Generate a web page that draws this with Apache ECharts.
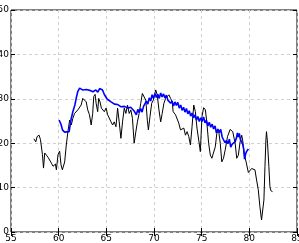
<!DOCTYPE html>
<html>
<head>
<meta charset="utf-8">
<script src="https://cdn.jsdelivr.net/npm/echarts@6/dist/echarts.min.js"></script>
<style>
html,body{margin:0;padding:0;background:#fff;}
#c{width:299px;height:243px;}
</style>
</head>
<body>
<div id="c"></div>
<script>
var xTicks = [55, 60, 65, 70, 75, 80, 85];
var yTicks = [0, 10, 20, 30, 40, 50];

var blackX = [57.40,57.60,57.74,57.95,58.09,58.30,58.41,58.54,58.72,58.89,59.06,59.24,59.41,59.51,59.66,59.76,59.93,60.10,60.25,60.39,60.63,60.80,60.97,61.15,61.32,61.49,61.67,61.84,62.01,62.19,62.36,62.53,62.71,62.89,63.05,63.23,63.41,63.57,63.68,63.82,63.93,64.09,64.20,64.34,64.48,64.61,64.79,64.97,65.14,65.31,65.49,65.66,65.83,66.01,66.18,66.35,66.53,66.70,66.88,67.05,67.22,67.40,67.57,67.74,67.92,68.09,68.26,68.44,68.61,68.78,68.96,69.14,69.30,69.41,69.58,69.76,69.93,70.18,70.34,70.52,70.70,70.86,71.04,71.22,71.39,71.56,71.74,71.91,72.01,72.26,72.43,72.60,72.78,72.95,73.13,73.30,73.47,73.65,73.82,73.99,74.17,74.34,74.51,74.69,74.86,75.03,75.21,75.39,75.55,75.73,75.91,76.07,76.25,76.43,76.59,76.77,76.95,77.11,77.29,77.47,77.71,77.99,78.26,78.51,78.68,78.85,79.03,79.20,79.30,79.45,79.66,79.79,79.90,80.07,80.24,80.42,80.59,80.76,80.94,81.11,81.28,81.39,81.53,81.64,81.74,81.80,81.91,82.05,82.16,82.26,82.43];
var blackY = [21.0,20.3,21.5,21.8,20.8,17.4,14.4,17.8,17.3,16.8,17.0,15.5,14.8,14.4,15.3,14.0,17.4,18.2,15.1,14.0,15.8,19.6,22.6,25.2,24.1,25.6,26.7,26.4,27.5,27.9,28.6,30.1,30.5,29.3,27.5,26.4,24.1,26.7,30.5,31.0,29.0,27.1,30.1,29.3,27.9,28.2,27.1,27.9,26.4,26.0,24.8,24.1,24.8,23.7,27.9,24.8,21.1,24.8,27.9,26.7,28.6,26.7,27.5,25.6,20.0,22.5,24.8,26.7,29.0,31.2,31.2,29.7,25.2,23.0,26.0,29.0,29.7,32.0,30.9,27.5,24.8,26.7,29.0,30.1,30.5,30.9,30.1,29.3,27.1,26.4,26.0,24.5,23.0,22.6,23.4,21.8,22.6,21.5,19.6,23.7,28.6,27.1,23.4,20.7,18.1,26.0,28.0,27.5,24.5,20.0,17.3,16.6,16.9,19.2,22.2,23.0,20.0,15.8,16.6,18.5,21.5,23.1,22.6,20.0,16.6,17.3,20.3,21.8,20.7,17.7,15.8,15.5,13.4,13.1,14.3,14.7,14.0,11.7,9.5,5.7,2.7,2.3,7.2,14.7,20.7,22.6,20.0,14.7,10.2,9.3,9.1];

var blueX = [60.05,60.25,60.4,60.6,60.8,61.1,61.3,61.5,61.7,61.85,62.0,62.2,62.35,62.5,62.7,62.9,63.1,63.25,63.4,63.6,63.75,63.9,64.1,64.3,64.45,64.6,64.8,65.1,65.3,65.5,65.7,65.85,66.0,66.2,66.4,66.55,66.7,66.9,67.1,67.25,67.4,67.55,67.7,67.9,68.0,68.15,68.3,68.45,68.6,68.75,68.9,69.05,69.2,69.35,69.5,69.65,69.8,69.95,70.1,70.25,70.4,70.55,70.7,70.85,71.0,71.15,71.3,71.45,71.6,71.75,71.9,72.05,72.2,72.35,72.5,72.65,72.8,72.95,73.1,73.25,73.4,73.55,73.7,73.85,74.0,74.15,74.3,74.45,74.6,74.75,74.9,75.05,75.2,75.35,75.5,75.65,75.8,75.95,76.1,76.25,76.4,76.55,76.7,76.85,77.0,77.15,77.3,77.45,77.6,77.75,77.9,78.05,78.2,78.35,78.5,78.65,78.75,78.85,78.95,79.05,79.15,79.3,79.4,79.5,79.6,79.7,79.8,79.9];
var blueY = [25.2,24.2,23.0,22.5,22.4,22.6,25.4,27.2,28.6,30.2,31.6,32.4,32.1,32.0,32.2,32.1,31.8,31.9,32.0,31.6,31.8,32.0,31.5,32.3,32.5,32.0,30.9,29.9,29.5,29.3,29.2,28.8,28.6,28.7,28.4,28.2,28.0,28.3,28.4,27.9,27.7,28.1,28.2,27.3,27.2,26.4,27.6,26.9,27.8,27.0,28.3,27.9,29.5,28.8,30.2,29.5,30.9,30.1,31.2,30.3,31.0,30.1,31.3,30.4,31.1,30.2,30.8,29.7,30.1,29.0,29.5,28.4,29.3,28.5,29.2,27.9,28.6,27.4,28.1,27.0,27.8,26.6,27.3,26.1,26.8,25.7,26.4,25.2,26.0,24.9,25.7,24.9,25.9,24.6,25.1,23.9,24.7,23.6,24.3,23.2,23.9,22.3,23.2,22.4,23.1,21.4,21.2,20.1,20.6,19.9,20.9,19.1,19.8,19.4,20.3,21.2,22.3,21.4,22.2,20.9,21.3,19.8,18.8,16.4,17.5,18.1,18.4,18.7];

function pairs(xs, ys){ var out=[]; for(var i=0;i<xs.length;i++) out.push([xs[i], ys[i]]); return out; }

var chart = echarts.init(document.getElementById('c'), null, {renderer:'canvas'});
var labelFont = {fontFamily:'DejaVu Sans', fontSize:9, color:'#000'};
var grid = {left:11, top:10, right:2, bottom:11, outerBoundsMode:'none', containLabel:false, show:true, borderColor:'#000', borderWidth:1, backgroundColor:'transparent'};
var split = {show:true, lineStyle:{color:'#d0d0d0', type:[3,3], width:1}};
chart.setOption({
  animation:false,
  grid: grid,
  xAxis: [{
    type:'value', min:xTicks[0], max:xTicks[xTicks.length-1], interval:5,
    axisLine:{show:false},
    axisTick:{show:true, inside:true, length:4, lineStyle:{color:'#000'}},
    axisLabel:Object.assign({margin:2, showMinLabel:true, showMaxLabel:true, hideOverlap:false}, labelFont),
    splitLine: split
  },{
    type:'value', position:'top', min:xTicks[0], max:xTicks[xTicks.length-1], interval:5,
    axisLine:{show:false}, axisLabel:{show:false},
    axisTick:{show:true, inside:true, length:4, lineStyle:{color:'#000'}},
    splitLine:{show:false}
  }],
  yAxis: [{
    type:'value', min:yTicks[0], max:yTicks[yTicks.length-1], interval:10,
    axisLine:{show:false},
    axisTick:{show:true, inside:true, length:4, lineStyle:{color:'#000'}},
    axisLabel:Object.assign({margin:2, showMinLabel:true, showMaxLabel:true, hideOverlap:false}, labelFont),
    splitLine: split
  },{
    type:'value', position:'right', min:yTicks[0], max:yTicks[yTicks.length-1], interval:10,
    axisLine:{show:false}, axisLabel:{show:false},
    axisTick:{show:true, inside:true, length:4, lineStyle:{color:'#000'}},
    splitLine:{show:false}
  }],
  series: [{
    type:'line', data:pairs(blackX, blackY), showSymbol:false, symbol:'none',
    lineStyle:{color:'#000', width:1}, z:2
  },{
    type:'line', data:pairs(blueX, blueY), showSymbol:false, symbol:'none',
    lineStyle:{color:'#0000ff', width:1.6}, z:3
  }]
});
</script>
</body>
</html>
